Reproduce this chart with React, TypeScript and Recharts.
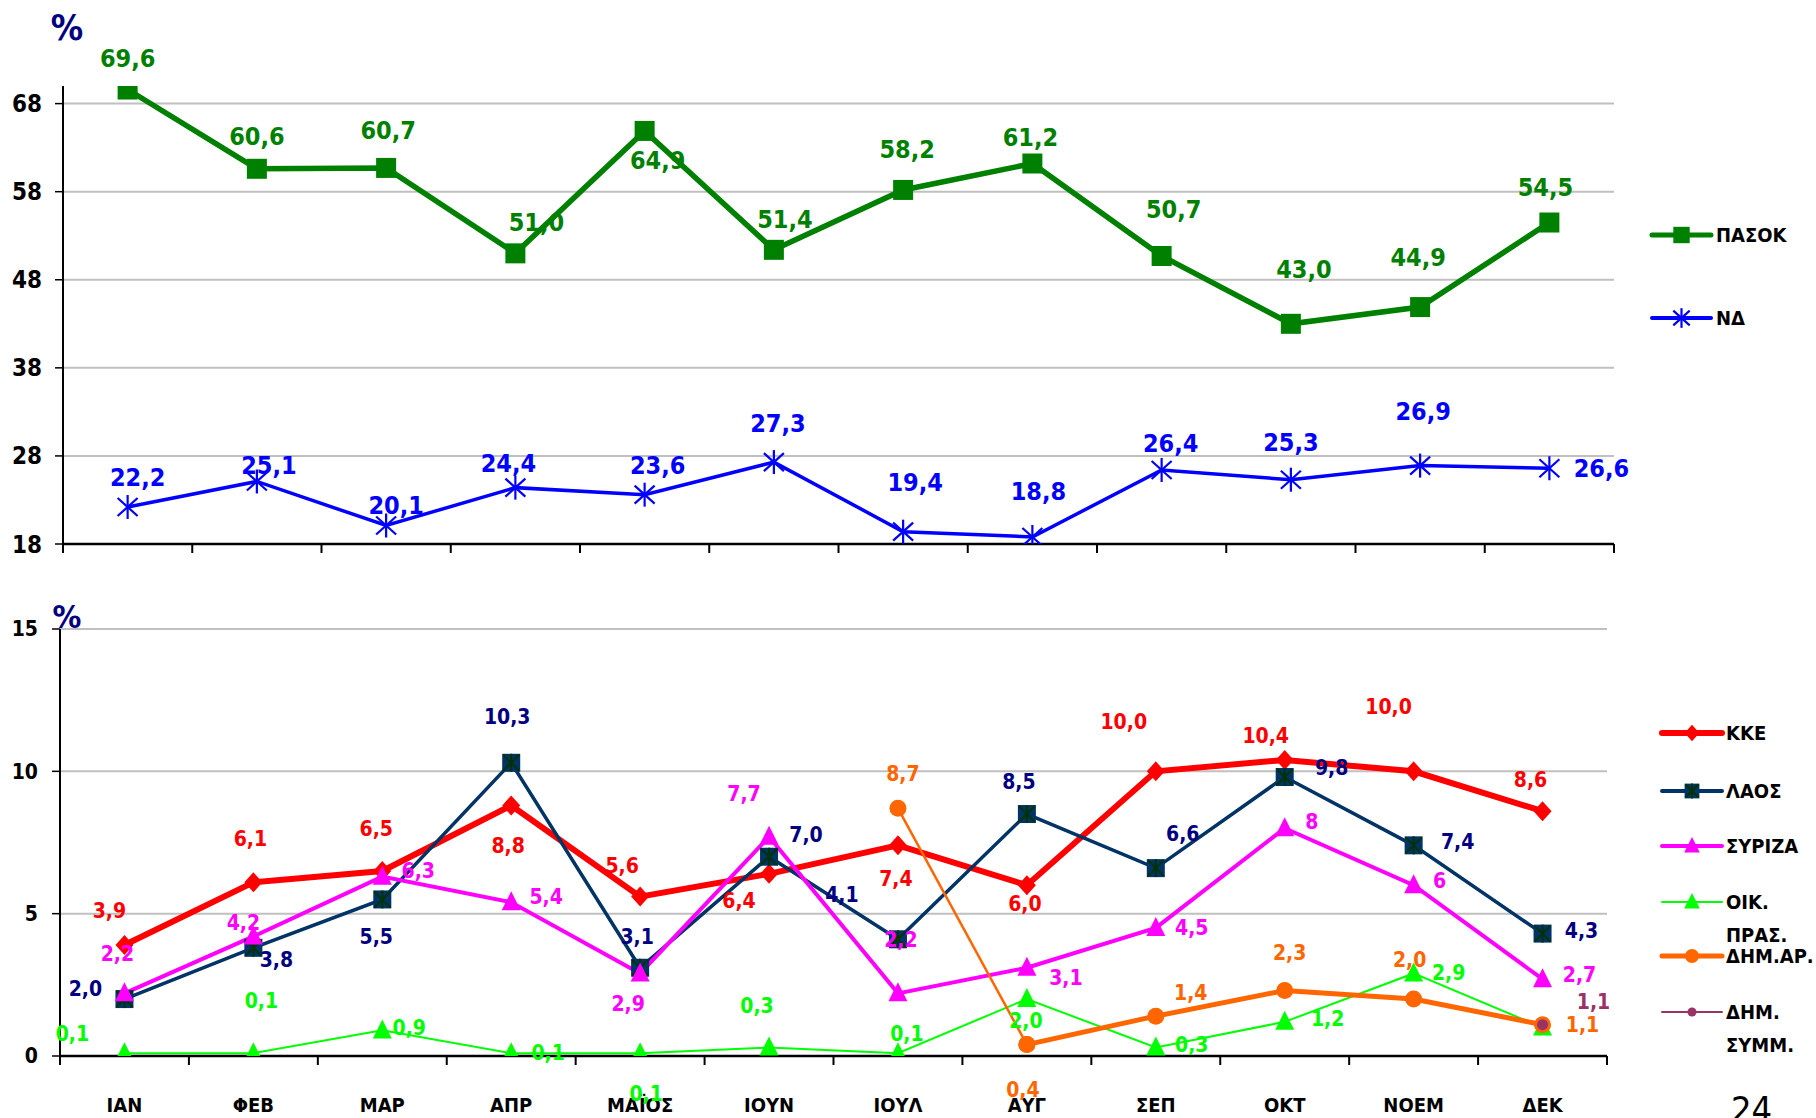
import React from 'react';
import { LineChart, Line, XAxis, YAxis, CartesianGrid, LabelList, Legend } from 'recharts';

// ---------------- data ----------------
const months = ['ΙΑΝ', 'ΦΕΒ', 'ΜΑΡ', 'ΑΠΡ', 'ΜΑΪΟΣ', 'ΙΟΥΝ', 'ΙΟΥΛ', 'ΑΥΓ', 'ΣΕΠ', 'ΟΚΤ', 'ΝΟΕΜ', 'ΔΕΚ'];
const pasok = [69.6, 60.6, 60.7, 51.0, 64.9, 51.4, 58.2, 61.2, 50.7, 43.0, 44.9, 54.5];
const nd = [22.2, 25.1, 20.1, 24.4, 23.6, 27.3, 19.4, 18.8, 26.4, 25.3, 26.9, 26.6];
const kke = [3.9, 6.1, 6.5, 8.8, 5.6, 6.4, 7.4, 6.0, 10.0, 10.4, 10.0, 8.6];
const laos = [2.0, 3.8, 5.5, 10.3, 3.1, 7.0, 4.1, 8.5, 6.6, 9.8, 7.4, 4.3];
const syriza = [2.2, 4.2, 6.3, 5.4, 2.9, 7.7, 2.2, 3.1, 4.5, 8, 6, 2.7];
const oikPras = [0.1, 0.1, 0.9, 0.1, 0.1, 0.3, 0.1, 2.0, 0.3, 1.2, 2.9, 1.0];
const dimAr: (number | null)[] = [null, null, null, null, null, null, 8.7, 0.4, 1.4, 2.3, 2.0, 1.1];
const dimSymm: (number | null)[] = [null, null, null, null, null, null, null, null, null, null, null, 1.1];
const topTicks = [18, 28, 38, 48, 58, 68];
const bottomTicks = [0, 5, 10, 15];

// ---------------- label placement (dx, dy relative to the point) ----------------
type Off = [number, number] | null;
const pasokLbl: Off[] = [[0, -31], [0, -32], [2, -37], [21, -31], [13, 30], [11, -30], [4, -40], [-2, -26], [12, -46], [13, -54], [-2, -50], [-4, -35]];
const ndLbl: Off[] = [[10, -30], [12, -16], [10, -20], [-7, -24], [13, -29], [4, -39], [12, -49], [6, -45], [9, -27], [0, -37], [3, -54], [52, 0]];
const kkeLbl: Off[] = [[-15, -34], [-3, -43], [-6, -42], [-3, 41], [-18, -31], [-30, 27], [-2, 34], [-2, 19], [-32, -49], [-19, -24], [-25, -64], [-12, -31]];
const laosLbl: Off[] = [[-39, -10], [23, 12], [-6, 38], [-4, -46], [-3, -31], [37, -22], [-56, -44], [-8, -32], [27, -34], [47, -9], [44, -3], [39, -3]];
const syrizaLbl: Off[] = [[-7, -39], [-10, -13], [36, -6], [35, -5], [-12, 31], [-25, -43], [3, -53], [39, 10], [36, 0], [27, -6], [26, -4], [37, -4]];
const oikLbl: Off[] = [[-52, -19], [8, -52], [27, -2], [37, 0], [6, 41], [-12, -41], [9, -19], [-1, 22], [36, -2], [43, -3], [35, 0], null];
const dimArLbl: Off[] = [null, null, null, null, null, null, [5, -34], [-4, 45], [35, -23], [5, -38], [-4, -39], [40, 0]];
const dimSymmLbl: Off[] = [null, null, null, null, null, null, null, null, null, null, null, [51, -23]];

const FONT = "'DejaVu Sans Condensed', 'DejaVu Sans', sans-serif";
const C = {
  pasok: '#008000',
  nd: '#0000FF',
  kke: '#FF0000',
  laos: '#003366',
  laosLbl: '#000080',
  syriza: '#FF00FF',
  oik: '#00FF00',
  dimAr: '#FF6600',
  dimSymm: '#993366',
  grid: '#C0C0C0',
};

const fix1 = (v: number) => v.toFixed(1).replace('.', ',');
const plain = (v: number) => String(v).replace('.', ',');

// ---------------- markers ----------------
type MarkerType = 'square' | 'star' | 'squareStar' | 'diamond' | 'triangle' | 'circle' | 'smallCircle';
function Marker({ type, cx, cy, color, s = 1 }: { type: MarkerType; cx: number; cy: number; color: string; s?: number }) {
  switch (type) {
    case 'square':
      return <rect x={cx - 10 * s} y={cy - 10 * s} width={20 * s} height={20 * s} fill={color} />;
    case 'star':
      return (
        <g stroke={color} strokeWidth={2.2} fill="none">
          <line x1={cx} y1={cy - 12 * s} x2={cx} y2={cy + 12 * s} />
          <line x1={cx - 10 * s} y1={cy - 9 * s} x2={cx + 10 * s} y2={cy + 9 * s} />
          <line x1={cx - 10 * s} y1={cy + 9 * s} x2={cx + 10 * s} y2={cy - 9 * s} />
        </g>
      );
    case 'squareStar':
      return (
        <g>
          <rect x={cx - 9 * s} y={cy - 9 * s} width={18 * s} height={18 * s} fill={color} />
          <g stroke="#003300" strokeWidth={2}>
            <line x1={cx} y1={cy - 9 * s} x2={cx} y2={cy + 9 * s} />
            <line x1={cx - 8 * s} y1={cy - 8 * s} x2={cx + 8 * s} y2={cy + 8 * s} />
            <line x1={cx - 8 * s} y1={cy + 8 * s} x2={cx + 8 * s} y2={cy - 8 * s} />
          </g>
        </g>
      );
    case 'diamond':
      return <polygon points={`${cx},${cy - 10 * s} ${cx + 9 * s},${cy} ${cx},${cy + 10 * s} ${cx - 9 * s},${cy}`} fill={color} />;
    case 'triangle':
      return <polygon points={`${cx},${cy - 11 * s} ${cx + 9.5 * s},${cy + 8 * s} ${cx - 9.5 * s},${cy + 8 * s}`} fill={color} />;
    case 'circle':
      return <circle cx={cx} cy={cy} r={8.5 * s} fill={color} />;
    case 'smallCircle':
      return <circle cx={cx} cy={cy} r={5.5 * s} fill={color} />;
  }
  return null;
}

const makeDot = (type: MarkerType, color: string) => (props: any) => {
  const { cx, cy, index, value } = props;
  if (cx == null || cy == null || value == null || Number.isNaN(cy)) return <g key={`d-${index}`} />;
  return (
    <g key={`d-${index}`}>
      <Marker type={type} cx={cx} cy={cy} color={color} />
    </g>
  );
};

const makeLabel = (offsets: Off[], color: string, fmt: (v: number) => string, size: number, keep?: (i: number) => boolean) => (props: any) => {
  const { index, value } = props;
  const x = props.x ?? props.viewBox?.x;
  const y = props.y ?? props.viewBox?.y;
  const off = offsets[index];
  if (value == null || off == null || x == null || y == null) return null;
  if (keep && !keep(index)) return null;
  return (
    <text
      key={`l-${index}`}
      x={x + off[0]}
      y={y + off[1]}
      fill={color}
      fontSize={size}
      fontWeight="bold"
      fontFamily={FONT}
      style={{ fontStretch: 'condensed' }}
      textAnchor="middle"
      dominantBaseline="central"
    >
      {fmt(Number(value))}
    </text>
  );
};

// x-axis: tick marks on band boundaries, labels in band centres
const makeXTick = (bw: number, showLabel: boolean) => (props: any) => {
  const { x, y, payload, index } = props;
  return (
    <g key={`t-${index}`}>
      <line x1={x - bw / 2} x2={x - bw / 2} y1={y} y2={y + 9} stroke="#000" strokeWidth={2} />
      {index === months.length - 1 && <line x1={x + bw / 2} x2={x + bw / 2} y1={y} y2={y + 9} stroke="#000" strokeWidth={2} />}
      {showLabel && (
        <text x={x} y={y + 49} textAnchor="middle" dominantBaseline="central" fontFamily={FONT} style={{ fontStretch: 'condensed' }} fontWeight="bold" fontSize={20} fill="#000">
          {payload.value}
        </text>
      )}
    </g>
  );
};

const yTickStyle = (size: number) => ({ fontSize: size, fontWeight: 'bold' as const, fontFamily: FONT, fill: '#000', fontStretch: 'condensed' });

// ---------------- legends ----------------
type LegItem = { lines: string[]; color: string; marker: MarkerType; width: number; y: number };
const LegendBox = ({ items, w, h, x0, x1, tx }: { items: LegItem[]; w: number; h: number; x0: number; x1: number; tx: number }) => (
  <svg width={w} height={h} style={{ display: 'block', overflow: 'visible' }}>
    {items.map((it, i) => (
      <g key={i}>
        <line x1={x0} x2={x1} y1={it.y} y2={it.y} stroke={it.color} strokeWidth={it.width} strokeLinecap="round" />
        <Marker type={it.marker} cx={(x0 + x1) / 2} cy={it.y} color={it.color} s={0.82} />
        {it.lines.map((t, j) => (
          <text key={j} x={tx} y={it.y + j * 33} fontFamily={FONT} style={{ fontStretch: 'condensed' }} fontWeight="bold" fontSize={20} fill="#000" dominantBaseline="central">
            {t}
          </text>
        ))}
      </g>
    ))}
  </svg>
);

const topLegendItems: LegItem[] = [
  { lines: ['ΠΑΣΟΚ'], color: C.pasok, marker: 'square', width: 5, y: 40 },
  { lines: ['ΝΔ'], color: C.nd, marker: 'star', width: 4, y: 123 },
];
const bottomLegendItems: LegItem[] = [
  { lines: ['ΚΚΕ'], color: C.kke, marker: 'diamond', width: 6, y: 33 },
  { lines: ['ΛΑΟΣ'], color: C.laos, marker: 'squareStar', width: 4, y: 91 },
  { lines: ['ΣΥΡΙΖΑ'], color: C.syriza, marker: 'triangle', width: 4, y: 146 },
  { lines: ['ΟΙΚ.', 'ΠΡΑΣ.'], color: C.oik, marker: 'triangle', width: 2, y: 202 },
  { lines: ['ΔΗΜ.ΑΡ.'], color: C.dimAr, marker: 'circle', width: 5, y: 256 },
  { lines: ['ΔΗΜ.', 'ΣΥΜΜ.'], color: C.dimSymm, marker: 'smallCircle', width: 2, y: 312 },
];

// ---------------- chart data rows ----------------
const topData = months.map((m, i) => ({ month: m, pasok: pasok[i], nd: nd[i] }));
const bottomData = months.map((m, i) => ({
  month: m,
  kke: kke[i],
  laos: laos[i],
  syriza: syriza[i],
  oik: oikPras[i],
  dimArA: i <= 7 ? dimAr[i] : null,
  dimArB: i >= 7 ? dimAr[i] : null,
  dimSymm: dimSymm[i],
}));

const TOP_BW = (1614 - 63) / 12;
const BOT_BW = (1607 - 60) / 12;

export default function App() {
  return (
    <div style={{ position: 'absolute', left: 0, top: 0, width: 1816, height: 1118, overflow: 'hidden', background: '#fff' }}>
      {/* upper chart */}
      <div style={{ position: 'absolute', left: 0, top: 0 }}>
        <LineChart width={1816} height={560} data={topData} margin={{ top: 86, right: 202, bottom: 0, left: 0 }}>
          <CartesianGrid vertical={false} horizontalValues={topTicks} stroke={C.grid} strokeWidth={2} />
          <XAxis
            dataKey="month"
            scale="band"
            interval={0}
            height={16}
            tickSize={0}
            tickMargin={0}
            tickLine={false}
            axisLine={{ stroke: '#000', strokeWidth: 2.5 }}
            tick={makeXTick(TOP_BW, false)}
          />
          <YAxis
            domain={[18, 70]}
            ticks={topTicks}
            interval={0}
            width={63}
            tickSize={8}
            tickMargin={13}
            axisLine={{ stroke: '#000', strokeWidth: 2 }}
            tickLine={{ stroke: '#000', strokeWidth: 1.5 }}
            tick={yTickStyle(24)}
            allowDataOverflow
          />
          <Line dataKey="pasok" name="ΠΑΣΟΚ" stroke={C.pasok} strokeWidth={5.5} isAnimationActive={false} dot={makeDot('square', C.pasok)} activeDot={false}>
            <LabelList dataKey="pasok" content={makeLabel(pasokLbl, C.pasok, fix1, 25)} />
          </Line>
          <Line dataKey="nd" name="ΝΔ" stroke={C.nd} strokeWidth={3.5} isAnimationActive={false} dot={makeDot('star', C.nd)} activeDot={false}>
            <LabelList dataKey="nd" content={makeLabel(ndLbl, C.nd, fix1, 25)} />
          </Line>
          <Legend
            layout="vertical"
            align="center"
            verticalAlign="middle"
            wrapperStyle={{ left: 1645, top: 195, width: 171, height: 160 }}
            content={() => <LegendBox items={topLegendItems} w={171} h={160} x0={7} x1={66} tx={71} />}
          />
        </LineChart>
      </div>

      {/* lower chart */}
      <div style={{ position: 'absolute', left: 0, top: 570 }}>
        <LineChart width={1816} height={548} data={bottomData} margin={{ top: 59, right: 209, bottom: 0, left: 0 }}>
          <CartesianGrid vertical={false} horizontalValues={bottomTicks} stroke={C.grid} strokeWidth={2} />
          <XAxis
            dataKey="month"
            scale="band"
            interval={0}
            height={62}
            tickSize={0}
            tickMargin={0}
            tickLine={false}
            axisLine={{ stroke: '#000', strokeWidth: 2.5 }}
            tick={makeXTick(BOT_BW, true)}
          />
          <YAxis
            domain={[0, 15]}
            ticks={bottomTicks}
            interval={0}
            width={60}
            tickSize={8}
            tickMargin={14}
            axisLine={{ stroke: '#000', strokeWidth: 2 }}
            tickLine={{ stroke: '#000', strokeWidth: 1.5 }}
            tick={yTickStyle(21)}
            allowDataOverflow
          />
          <Line dataKey="kke" name="ΚΚΕ" stroke={C.kke} strokeWidth={6} isAnimationActive={false} dot={makeDot('diamond', C.kke)} activeDot={false}>
            <LabelList dataKey="kke" content={makeLabel(kkeLbl, C.kke, fix1, 21)} />
          </Line>
          <Line dataKey="laos" name="ΛΑΟΣ" stroke={C.laos} strokeWidth={3.5} isAnimationActive={false} dot={makeDot('squareStar', C.laos)} activeDot={false}>
            <LabelList dataKey="laos" content={makeLabel(laosLbl, C.laosLbl, fix1, 21)} />
          </Line>
          <Line dataKey="syriza" name="ΣΥΡΙΖΑ" stroke={C.syriza} strokeWidth={4} isAnimationActive={false} dot={makeDot('triangle', C.syriza)} activeDot={false}>
            <LabelList dataKey="syriza" content={makeLabel(syrizaLbl, C.syriza, plain, 21)} />
          </Line>
          <Line dataKey="oik" name="ΟΙΚ. ΠΡΑΣ." stroke={C.oik} strokeWidth={2} isAnimationActive={false} dot={makeDot('triangle', C.oik)} activeDot={false}>
            <LabelList dataKey="oik" content={makeLabel(oikLbl, C.oik, fix1, 21)} />
          </Line>
          <Line dataKey="dimArA" name="ΔΗΜ.ΑΡ." legendType="none" stroke={C.dimAr} strokeWidth={2.5} isAnimationActive={false} dot={makeDot('circle', C.dimAr)} activeDot={false}>
            <LabelList dataKey="dimArA" content={makeLabel(dimArLbl, C.dimAr, fix1, 21, (i) => i < 7)} />
          </Line>
          <Line dataKey="dimArB" name="ΔΗΜ.ΑΡ." stroke={C.dimAr} strokeWidth={5} isAnimationActive={false} dot={makeDot('circle', C.dimAr)} activeDot={false}>
            <LabelList dataKey="dimArB" content={makeLabel(dimArLbl, C.dimAr, fix1, 21, (i) => i >= 7)} />
          </Line>
          <Line dataKey="dimSymm" name="ΔΗΜ. ΣΥΜΜ." stroke={C.dimSymm} strokeWidth={2} isAnimationActive={false} dot={makeDot('smallCircle', C.dimSymm)} activeDot={false}>
            <LabelList dataKey="dimSymm" content={makeLabel(dimSymmLbl, C.dimSymm, fix1, 21)} />
          </Line>
          <Legend
            layout="vertical"
            align="center"
            verticalAlign="middle"
            wrapperStyle={{ left: 1650, top: 130, width: 166, height: 370 }}
            content={() => <LegendBox items={bottomLegendItems} w={166} h={370} x0={12} x1={72} tx={76} />}
          />
        </LineChart>
      </div>

      {/* page annotations */}
      <svg width={1816} height={1118} style={{ position: 'absolute', left: 0, top: 0, pointerEvents: 'none' }}>
        <text x={67} y={27} textAnchor="middle" dominantBaseline="central" fontFamily={FONT} style={{ fontStretch: 'condensed' }} fontWeight="bold" fontSize={36} fill="#000080">%</text>
        <text x={67} y={617} textAnchor="middle" dominantBaseline="central" fontFamily={FONT} style={{ fontStretch: 'condensed' }} fontWeight="bold" fontSize={32} fill="#000080">%</text>
        <text x={1731} y={1122} fontFamily={FONT} style={{ fontStretch: 'condensed' }} fontSize={36} fill="#000">24</text>
      </svg>
    </div>
  );
}
